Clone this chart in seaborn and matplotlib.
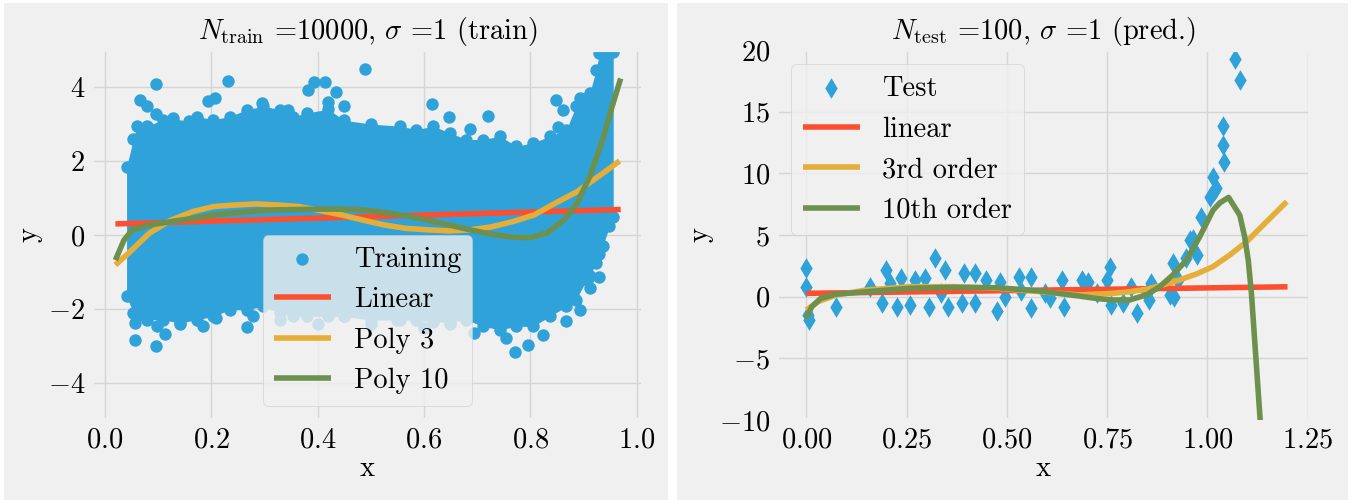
import numpy as np
import pandas as pd
import matplotlib
matplotlib.use("Agg")
import matplotlib.pyplot as plt
import seaborn as sns
from matplotlib.patches import Rectangle

# ---------------- data ----------------
# Left panel: dense training cloud envelope
cloud_x = [0.041, 0.054, 0.060, 0.079, 0.110, 0.141, 0.173, 0.204, 0.235, 0.267, 0.298, 0.329,
           0.354, 0.380, 0.420, 0.450, 0.500, 0.555, 0.586, 0.618, 0.649, 0.680, 0.711, 0.743,
           0.774, 0.805, 0.837, 0.868, 0.886, 0.906, 0.912, 0.924, 0.930, 0.936, 0.949, 0.956]
cloud_upper = [1.85, 2.60, 2.94, 2.94, 3.12, 2.94, 3.20, 3.12, 3.20, 3.39, 3.48, 3.39,
               3.20, 3.30, 3.40, 3.10, 3.00, 2.94, 2.85, 2.94, 2.76, 2.58, 2.58, 2.67,
               2.40, 2.49, 2.67, 2.85, 3.48, 3.70, 3.84, 4.47, 4.92, 4.95, 4.95, 4.95]
cloud_lower = [-1.66, -2.11, -2.20, -2.29, -2.29, -2.38, -2.29, -2.20, -2.02, -2.02, -1.93, -2.10,
               -2.20, -2.20, -2.20, -2.20, -2.30, -2.30, -2.30, -2.35, -2.35, -2.29, -2.47, -2.56,
               -2.47, -2.47, -2.20, -1.93, -1.75, -1.21, -1.10, -0.76, -0.50, -0.31, 0.23, 0.50]

# Left panel: isolated training points outside the dense band
train_out_x = [0.096, 0.232, 0.066, 0.079, 0.096, 0.128, 0.195, 0.207, 0.159, 0.295, 0.345,
               0.490, 0.394, 0.414, 0.382, 0.434, 0.420, 0.450,
               0.615, 0.721, 0.848, 0.893, 0.943, 0.862, 0.852, 0.648, 0.687,
               0.057, 0.057, 0.096, 0.113, 0.099, 0.141, 0.185, 0.210, 0.267, 0.279,
               0.694, 0.771, 0.796, 0.824, 0.868, 0.755, 0.893, 0.912, 0.930,
               0.330, 0.400, 0.450, 0.500, 0.550, 0.600, 0.650]
train_out_y = [4.08, 4.17, 3.66, 3.48, 3.28, 3.16, 3.61, 3.70, 3.07, 3.57, 3.39,
               4.50, 4.14, 4.14, 3.92, 3.87, 3.60, 3.50,
               3.55, 3.22, 3.66, 3.70, 4.87, 3.39, 2.92, 3.20, 2.86,
               -2.38, -2.85, -3.01, -2.67, -2.45, -2.40, -2.47, -2.24, -2.49, -2.20,
               -2.65, -3.15, -2.96, -2.69, -2.33, -2.78, -2.02, -1.43, -1.14,
               -2.30, -2.40, -2.20, -2.40, -2.30, -2.50, -2.40]

# Left panel fitted curves
lin_train_x = [0.02, 0.97]
lin_train_y = [0.30, 0.69]
poly3_x = [0.020, 0.044, 0.084, 0.124, 0.165, 0.205, 0.245, 0.285, 0.325, 0.365, 0.405, 0.446,
           0.486, 0.526, 0.566, 0.606, 0.647, 0.687, 0.727, 0.767, 0.807, 0.847, 0.888, 0.928, 0.968]
poly3_y = [-0.81, -0.50, 0.05, 0.40, 0.63, 0.77, 0.81, 0.84, 0.81, 0.77, 0.66, 0.54,
           0.40, 0.27, 0.18, 0.14, 0.11, 0.14, 0.22, 0.36, 0.54, 0.86, 1.17, 1.58, 2.00]
poly10_x = [0.020, 0.036, 0.052, 0.084, 0.124, 0.165, 0.205, 0.245, 0.285, 0.325, 0.365, 0.405,
            0.446, 0.486, 0.526, 0.566, 0.606, 0.647, 0.687, 0.727, 0.767, 0.800, 0.831, 0.863,
            0.888, 0.912, 0.936, 0.952, 0.970]
poly10_y = [-0.68, -0.14, 0.14, 0.27, 0.36, 0.45, 0.54, 0.60, 0.65, 0.68, 0.69, 0.70,
            0.70, 0.68, 0.61, 0.52, 0.40, 0.27, 0.14, 0.02, -0.06, -0.07, 0.05, 0.40,
            0.86, 1.58, 2.57, 3.38, 4.23]

# Right panel: test points
test_x = [0.000, 0.000, 0.005, 0.007, 0.074, 0.160, 0.200, 0.190, 0.210, 0.225, 0.236, 0.258,
          0.270, 0.296, 0.307, 0.320, 0.336, 0.345, 0.354, 0.388, 0.394, 0.420, 0.420, 0.448,
          0.475, 0.483, 0.495, 0.530, 0.535, 0.560, 0.560, 0.594, 0.607, 0.638, 0.643, 0.687,
          0.703, 0.725, 0.757, 0.750, 0.760, 0.790, 0.810, 0.824, 0.850, 0.855, 0.860, 0.906,
          0.918, 0.914, 0.927, 0.948, 0.964, 0.958, 0.973, 0.985, 1.006, 1.014, 1.017, 1.022,
          1.042, 1.039, 1.039, 1.070, 1.082]
test_y = [2.3, 0.8, -1.5, -1.9, -0.8, 0.8, 2.2, -0.5, 1.1, -0.8, 1.5, -0.7,
          1.35, 1.5, -0.8, 3.1, 0.27, 2.2, -0.8, -0.5, 1.9, 1.9, -0.5, 1.35,
          -1.2, 1.2, 0.0, 1.6, 0.5, 1.6, -0.95, 0.27, -0.1, 1.35, -0.8, 1.35,
          1.2, 0.27, 2.4, 1.35, -0.7, -0.5, 0.8, -1.35, 0.27, -0.3, 1.1, 0.14,
          0.0, 2.7, 1.35, 3.1, 4.7, 4.6, 3.38, 6.5, 8.1, 9.7, 8.6, 8.8,
          10.95, 12.3, 13.8, 19.3, 17.6]

# Right panel fitted curves
lin_test_x = [0.0, 1.2]
lin_test_y = [0.27, 0.80]
ord3_x = [0.000, 0.030, 0.074, 0.150, 0.258, 0.367, 0.475, 0.584, 0.680, 0.764, 0.806, 0.848,
          0.889, 0.930, 0.973, 1.014, 1.056, 1.098, 1.139, 1.198]
ord3_y = [-1.08, -0.40, 0.13, 0.54, 0.81, 0.81, 0.68, 0.40, 0.14, 0.27, 0.40, 0.60,
          0.95, 1.35, 1.84, 2.43, 3.38, 4.46, 5.80, 7.70]
ord10_x = [0.000, 0.014, 0.036, 0.074, 0.150, 0.258, 0.367, 0.475, 0.584, 0.680, 0.722, 0.764,
           0.806, 0.848, 0.881, 0.914, 0.948, 0.981, 1.014, 1.031, 1.053, 1.081, 1.093, 1.102,
           1.110, 1.133]
ord10_y = [-1.75, -0.80, -0.14, 0.20, 0.40, 0.68, 0.76, 0.73, 0.46, 0.05, -0.14, -0.27,
           -0.27, 0.14, 0.80, 1.76, 2.97, 4.86, 7.00, 7.60, 8.05, 6.60, 4.86, 2.97,
           0.27, -10.6]

BLUE, RED, YELLOW, GREEN = '#30a2da', '#fc4f30', '#e5ae38', '#6d904f'

# ---------------- style ----------------
plt.style.use('fivethirtyeight')
FS = 20.5
plt.rcParams.update({
    'font.family': 'serif',
    'font.serif': ['cmr10'],
    'mathtext.fontset': 'cm',
    'axes.formatter.use_mathtext': True,
    'axes.unicode_minus': True,
    'font.size': FS,
    'axes.titlesize': FS,
    'axes.labelsize': FS,
    'xtick.labelsize': FS,
    'ytick.labelsize': FS,
    'legend.fontsize': FS,
    'figure.facecolor': 'white',
    'savefig.facecolor': 'white',
    'xtick.major.pad': 5,
    'ytick.major.pad': 5,
    'grid.color': '#d5d5d5',
    'grid.linewidth': 1.0,
})

W, H = 1353, 504
fig = plt.figure(figsize=(W / 100, H / 100), dpi=100)

# panel backgrounds (two light-grey cards on white)
fig.patches.append(Rectangle((4 / W, 4 / H), (668 - 4) / W, (501 - 4) / H,
                             transform=fig.transFigure, facecolor='#f0f0f0',
                             edgecolor='none', zorder=-10))
fig.patches.append(Rectangle((677 / W, 4 / H), (1348 - 677) / W, (501 - 4) / H,
                             transform=fig.transFigure, facecolor='#f0f0f0',
                             edgecolor='none', zorder=-10))

ax1 = fig.add_axes([92 / W, 1 - 420 / H, (643 - 92) / W, 370 / H])
ax2 = fig.add_axes([777 / W, 1 - 420 / H, (1310 - 777) / W, 370 / H])

# ---------------- left panel ----------------
ax1.fill_between(cloud_x, cloud_lower, cloud_upper, color=BLUE, lw=0, zorder=1.5)
edge_x = pd.Series(cloud_x + cloud_x + train_out_x)
edge_y = pd.Series(cloud_upper + cloud_lower + train_out_y)
sns.scatterplot(x=edge_x, y=edge_y, ax=ax1, color=BLUE, s=80, linewidth=0,
                label='Training', zorder=2)
sns.lineplot(x=lin_train_x, y=lin_train_y, ax=ax1, sort=False, estimator=None,
             color=RED, linewidth=4, label='Linear', zorder=3)
sns.lineplot(x=poly3_x, y=poly3_y, ax=ax1, sort=False, estimator=None,
             color=YELLOW, linewidth=4, label='Poly 3', zorder=3)
sns.lineplot(x=poly10_x, y=poly10_y, ax=ax1, sort=False, estimator=None,
             color=GREEN, linewidth=4, label='Poly 10', zorder=3)
ax1.set_xlim(-0.024, 1.012)
ax1.set_ylim(-5, 5)
ax1.set_xticks([0.0, 0.2, 0.4, 0.6, 0.8, 1.0])
ax1.set_yticks([-4, -2, 0, 2, 4])
ax1.set_xlabel('x', labelpad=2)
ax1.set_ylabel('y', labelpad=4)
ax1.set_title(r'$N_{\rm train}$ =10000, $\sigma$ =1 (train)', pad=8)
ax1.legend(loc='lower center', borderaxespad=0.5)

# ---------------- right panel ----------------
sns.scatterplot(x=test_x, y=test_y, ax=ax2, color=BLUE, marker='d', s=110,
                linewidth=0, label='Test', zorder=2)
sns.lineplot(x=lin_test_x, y=lin_test_y, ax=ax2, sort=False, estimator=None,
             color=RED, linewidth=4, label='linear', zorder=3)
sns.lineplot(x=ord3_x, y=ord3_y, ax=ax2, sort=False, estimator=None,
             color=YELLOW, linewidth=4, label='3rd order', zorder=3)
sns.lineplot(x=ord10_x, y=ord10_y, ax=ax2, sort=False, estimator=None,
             color=GREEN, linewidth=4, label='10th order', zorder=3)
ax2.set_xlim(-0.073, 1.256)
ax2.set_ylim(-10, 20)
ax2.set_xticks([0.0, 0.25, 0.5, 0.75, 1.0, 1.25])
ax2.set_yticks([-10, -5, 0, 5, 10, 15, 20])
ax2.set_xlabel('x', labelpad=2)
ax2.set_ylabel('y', labelpad=4)
ax2.set_title(r'$N_{\rm test}$ =100, $\sigma$ =1 (pred.)', pad=8)
ax2.legend(loc='upper left', borderaxespad=0.5)

fig.savefig('out.png', dpi=100)
